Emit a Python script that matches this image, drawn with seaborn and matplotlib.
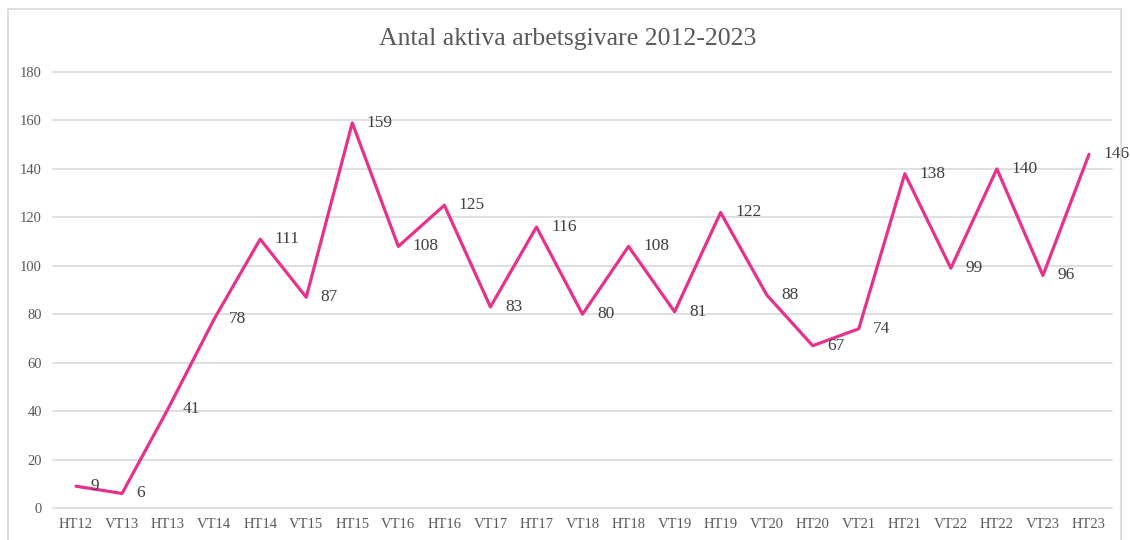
import matplotlib
matplotlib.use("Agg")
import matplotlib.pyplot as plt
import seaborn as sns
import pandas as pd
from matplotlib.patches import Rectangle

periods = ["HT12", "VT13", "HT13", "VT14", "HT14", "VT15", "HT15", "VT16", "HT16", "VT17",
           "HT17", "VT18", "HT18", "VT19", "HT19", "VT20", "HT20", "VT21", "HT21", "VT22",
           "HT22", "VT23", "HT23"]
values = [9, 6, 41, 78, 111, 87, 159, 108, 125, 83, 116, 80, 108, 81, 122, 88, 67, 74, 138, 99, 140, 96, 146]
yticks = [0, 20, 40, 60, 80, 100, 120, 140, 160, 180]
title = "Antal aktiva arbetsgivare 2012-2023"

sns.set_theme(style="white")
plt.rcParams["font.family"] = ["Liberation Serif", "DejaVu Serif"]

df = pd.DataFrame({"period": periods, "value": values})
df["pos"] = range(len(periods))

fig = plt.figure(figsize=(11.3, 5.4), dpi=100)
ax = fig.add_axes([53/1130, 32/540, (1112-53)/1130, (508-72)/540])

fig.patches.append(Rectangle((8/1130, -0.05), (1121-8)/1130, 1.0 - 9/540 + 0.05,
                             transform=fig.transFigure, fill=False,
                             edgecolor="#D9D9D9", linewidth=1.2, zorder=0))

sns.lineplot(data=df, x="pos", y="value", ax=ax, color="#E8318A", linewidth=2.3, sort=False)

for p, v in zip(df["pos"], df["value"]):
    ax.annotate(str(v), (p, v), xytext=(10.5, 0), textcoords="offset points",
                ha="left", va="center", fontsize=12.5, color="#404040")

ax.set_xlim(-0.5, len(periods) - 0.5)
ax.set_ylim(0, 180)
ax.set_yticks(yticks)
ax.set_yticklabels([str(t) for t in yticks])
ax.set_xticks(list(df["pos"]))
ax.set_xticklabels(periods)
ax.tick_params(axis="both", length=0, labelsize=10.5, labelcolor="#595959")
ax.tick_params(axis="y", pad=8)
ax.tick_params(axis="x", pad=7)
ax.yaxis.grid(True, color="#D9D9D9", linewidth=1.2)
for gl in ax.get_ygridlines():
    gl.set_clip_on(False)
ax.set_axisbelow(True)
for s in ax.spines.values():
    s.set_visible(False)
ax.set_xlabel("")
ax.set_ylabel("")

fig.text(568/1130, 1 - 39/540, title, ha="center", va="center", fontsize=18.5, color="#595959")

fig.savefig("out.png", dpi=100)
